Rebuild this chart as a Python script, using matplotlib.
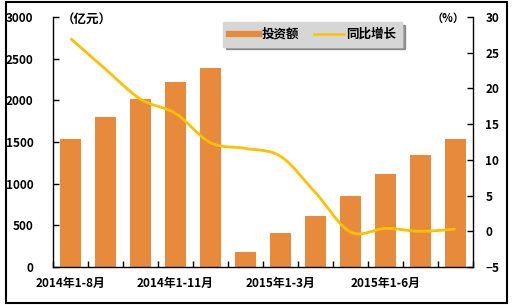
import numpy as np
import matplotlib
matplotlib.use('Agg')
import matplotlib.pyplot as plt
from matplotlib.path import Path
from matplotlib.patches import PathPatch, Rectangle
from matplotlib.lines import Line2D

plt.rcParams['font.family'] = ['Noto Sans CJK SC', 'DejaVu Sans']
plt.rcParams['font.weight'] = 'bold'

# data
periods = ['2014年1-8月', '2014年1-9月', '2014年1-10月', '2014年1-11月', '2014年1-12月',
           '2015年1-2月', '2015年1-3月', '2015年1-4月', '2015年1-5月', '2015年1-6月',
           '2015年1-7月', '2015年1-8月']
investment = [1535, 1800, 2020, 2220, 2390, 180, 405, 610, 850, 1115, 1340, 1535]
growth = [27.0, 22.7, 18.5, 16.5, 12.4, 11.6, 10.5, 5.4, -0.1, 0.4, 0.0, 0.3]
shown_labels = ['2014年1-8月', '2014年1-11月', '2015年1-3月', '2015年1-6月']

bar_color = '#E88A3C'
line_color = '#FFC000'

fig = plt.figure(figsize=(5.2, 3.05), dpi=100)
ax = fig.add_axes([53/520, 1 - 267/305, 420/520, 250/305])
ax2 = ax.twinx()

x = np.arange(len(periods))
ax.bar(x, investment, width=0.6, color=bar_color, zorder=2)
ax.set_xlim(-0.5, len(periods) - 0.5)
ax.set_ylim(0, 3000)
ax.set_yticks(range(0, 3001, 500))
ax.set_xticks(np.arange(-0.5, len(periods), 1), minor=False)
ax.set_xticklabels([])
ax.set_xticks([periods.index(p) for p in shown_labels], minor=True)
ax.set_xticklabels(shown_labels, minor=True)
ax.tick_params(axis='x', which='minor', length=0, pad=7, labelsize=8.5)
ax.tick_params(axis='x', which='major', direction='in', length=4, width=1)
ax.tick_params(axis='y', direction='in', length=4, width=1, pad=14, labelsize=8.5)

# smoothed growth line drawn as cubic bezier segments through the data points
pts = np.column_stack([x, growth]).astype(float)
verts = [tuple(pts[0])]
codes = [Path.MOVETO]
n = len(pts)
for i in range(n - 1):
    p0 = pts[max(i - 1, 0)]
    p1 = pts[i]
    p2 = pts[i + 1]
    p3 = pts[min(i + 2, n - 1)]
    c1 = p1 + (p2 - p0) / 6
    c2 = p2 - (p3 - p1) / 6
    verts += [tuple(c1), tuple(c2), tuple(p2)]
    codes += [Path.CURVE4] * 3
ax2.add_patch(PathPatch(Path(verts, codes), facecolor='none',
                        edgecolor=line_color, lw=2, zorder=3))
ax2.set_ylim(-5, 30)
ax2.set_yticks(range(-5, 31, 5))
ax2.tick_params(axis='y', direction='in', length=4, width=1, pad=9, labelsize=8.5)

for a in (ax, ax2):
    a.spines['top'].set_visible(False)
    for s in ('left', 'right', 'bottom'):
        a.spines[s].set_linewidth(1)
ax.spines['right'].set_visible(False)
ax2.spines['left'].set_visible(False)
ax2.spines['bottom'].set_visible(False)

fig.text(62/520, 1 - 20/305, '（亿元）', fontsize=9, va='center', ha='left')
fig.text(465/520, 1 - 18/305, '（%）', fontsize=8, va='center', ha='right')

handles = [Line2D([], [], color=bar_color, lw=4.5),
           Line2D([], [], color=line_color, lw=1.8)]
leg = fig.legend(handles, ['投资额', '同比增长'], loc='upper left',
                 bbox_to_anchor=(217/520, 1 - 16/305), ncol=2, frameon=True,
                 fancybox=False, shadow=True, facecolor='#d6d6d6', edgecolor='#d6d6d6',
                 prop={'size': 9, 'weight': 'bold'}, handlelength=2.4,
                 handletextpad=0.2, columnspacing=1.2, borderpad=0.45)
leg.get_frame().set_alpha(1)

fig.patches.append(Rectangle((6/520, 1 - 302.5/305), 501/520, 301/305,
                             transform=fig.transFigure, fill=False,
                             edgecolor='black', lw=1.5))

fig.savefig('out.png', dpi=100)
